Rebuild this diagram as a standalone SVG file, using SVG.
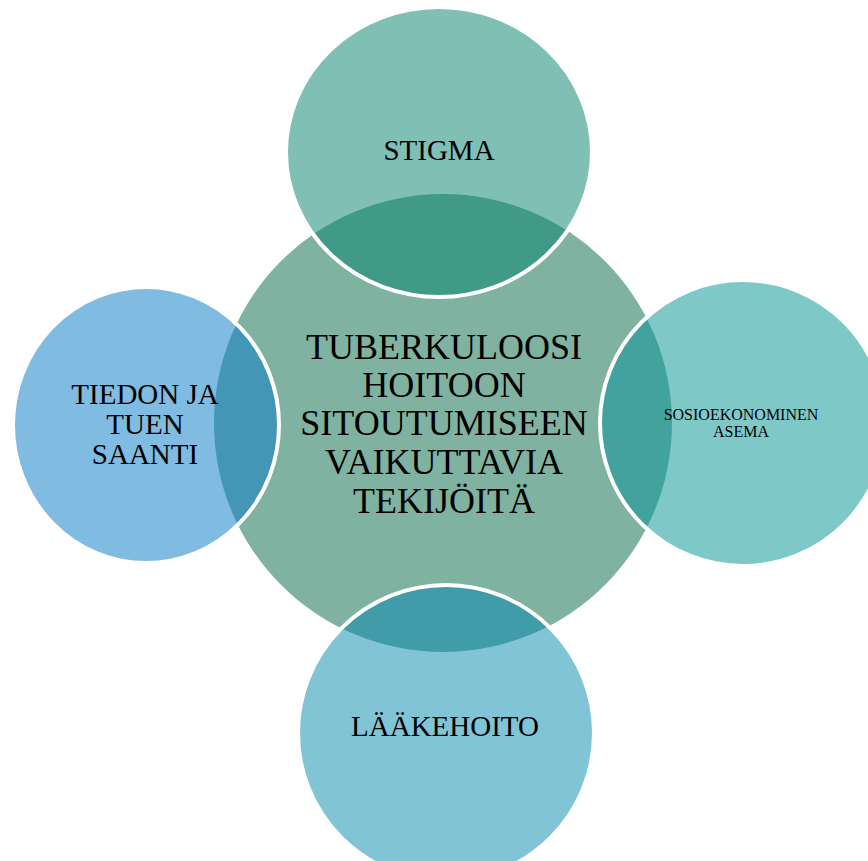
<svg xmlns="http://www.w3.org/2000/svg" width="868" height="861" viewBox="0 0 868 861">
<style>
text{font-family:"Liberation Serif","Times New Roman",serif;fill:#000;text-anchor:middle}
.big{font-size:29px}
.ctr{font-size:36px}
.sm{font-size:16px}
.ring{fill:none;stroke:#fff;stroke-width:4}
</style>
<defs>
<clipPath id="cc"><circle cx="443" cy="423" r="229"/></clipPath>
</defs>
<rect width="868" height="861" fill="#fff"/>
<g id="center">
<circle cx="443" cy="423" r="229" fill="#7FB2A0"/>
</g>
<g id="stigma">
<ellipse cx="439" cy="152" rx="153" ry="145" fill="#7FBFB5"/>
<ellipse cx="439" cy="152" rx="153" ry="145" fill="#419A88" clip-path="url(#cc)"/>
<ellipse class="ring" cx="439" cy="152" rx="153" ry="145"/>
<text class="big" x="439" y="160">STIGMA</text>
</g>
<g id="tieto">
<ellipse cx="146" cy="425" rx="133" ry="138" fill="#80BBE2"/>
<ellipse cx="146" cy="425" rx="133" ry="138" fill="#4396B5" clip-path="url(#cc)"/>
<ellipse class="ring" cx="146" cy="425" rx="133" ry="138"/>
<text class="big" x="145" y="404">TIEDON JA</text>
<text class="big" x="145" y="434">TUEN</text>
<text class="big" x="145" y="464">SAANTI</text>
</g>
<g id="sosio">
<circle cx="743" cy="423" r="143" fill="#7FC8C8"/>
<circle cx="743" cy="423" r="143" fill="#42A39E" clip-path="url(#cc)"/>
<circle class="ring" cx="743" cy="423" r="143"/>
<text class="sm" x="741" y="420">SOSIOEKONOMINEN</text>
<text class="sm" x="741" y="437">ASEMA</text>
</g>
<g id="laake">
<ellipse cx="446" cy="733" rx="148" ry="148" fill="#80C4D6"/>
<ellipse cx="446" cy="733" rx="148" ry="148" fill="#409CA8" clip-path="url(#cc)"/>
<ellipse class="ring" cx="446" cy="733" rx="148" ry="148"/>
<text class="big" x="445" y="736">LÄÄKEHOITO</text>
</g>
<g id="center-label">
<text class="ctr" x="444" y="359">TUBERKULOOSI</text>
<text class="ctr" x="444" y="397">HOITOON</text>
<text class="ctr" x="444" y="435">SITOUTUMISEEN</text>
<text class="ctr" x="444" y="474">VAIKUTTAVIA</text>
<text class="ctr" x="444" y="513">TEKIJÖITÄ</text>
</g>
<g id="connectors"/>
</svg>
